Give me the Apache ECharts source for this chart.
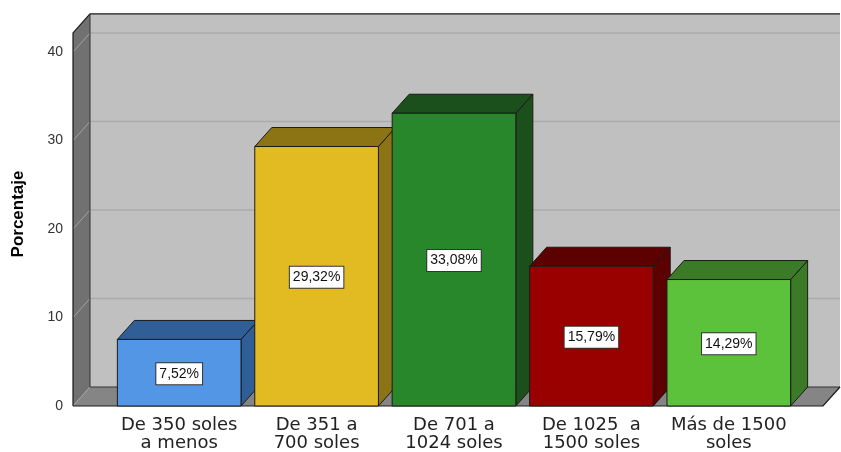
<!DOCTYPE html>
<html>
<head>
<meta charset="utf-8">
<script src="https://cdn.jsdelivr.net/npm/echarts@6/dist/echarts.min.js"></script>
<style>html,body{margin:0;padding:0;background:#fff}#c{width:841px;height:452px}</style>
</head>
<body>
<div id="c"></div>
<script>
const categories = ['De 350 soles\na menos', 'De 351 a\n700 soles', 'De 701 a\n1024 soles', 'De 1025  a\n1500 soles', 'Más de 1500\nsoles'];
const values = [7.52, 29.32, 33.08, 15.79, 14.29];
const yTicks = [0, 10, 20, 30, 40];
const frontColors = ['#5496e6', '#e2bb22', '#28872b', '#990000', '#5dc23b'];
const darkColors = ['#305e97', '#8c7414', '#1b4f1b', '#5c0000', '#3b7a27'];

const DX = 17, DY = -19;       // 3D depth offset (layout)
const WALL_MAX = 42.15;        // top of the wall, in axis units (layout)
const STROKE = '#1a1a1a';

const chart = echarts.init(document.getElementById('c'), null, {renderer: 'canvas'});

function wallsRender(params, api) {
  const cs = params.coordSys;
  const xL = cs.x, xR = cs.x + cs.width;
  const y0 = api.coord([0, 0])[1];
  const yT = api.coord([0, WALL_MAX])[1];
  const ch = [];
  ch.push({type: 'polygon', shape: {points: [[xL + DX, yT + DY], [xR + DX, yT + DY], [xR + DX, y0 + DY], [xL + DX, y0 + DY]]},
    style: {fill: '#c0c0c0', stroke: null}});
  ch.push({type: 'polygon', shape: {points: [[xL, yT], [xL + DX, yT + DY], [xL + DX, y0 + DY], [xL, y0]]},
    style: {fill: '#717171', stroke: null}});
  ch.push({type: 'polygon', shape: {points: [[xL, y0], [xR, y0], [xR + DX, y0 + DY], [xL + DX, y0 + DY]]},
    style: {fill: '#858585', stroke: null}});
  yTicks.forEach(function (v) {
    const y = api.coord([0, v])[1];
    if (v > 0) {
      ch.push({type: 'line', shape: {x1: xL + DX, y1: y + DY, x2: xR + DX, y2: y + DY},
        style: {stroke: '#ababab', lineWidth: 1.5}});
    }
    ch.push({type: 'line', shape: {x1: xL, y1: y, x2: xL + DX, y2: y + DY},
      style: {stroke: '#a3a3a3', lineWidth: 1}});
  });
  ch.push({type: 'polyline', shape: {points: [[xL, y0], [xL, yT], [xL + DX, yT + DY], [xR + DX, yT + DY]]},
    style: {stroke: STROKE, lineWidth: 1.2, fill: null}});
  ch.push({type: 'polyline', shape: {points: [[xL + DX, yT + DY], [xL + DX, y0 + DY], [xR + DX, y0 + DY]]},
    style: {stroke: '#333', lineWidth: 1, fill: null}});
  ch.push({type: 'polyline', shape: {points: [[xL, y0], [xR, y0], [xR + DX, y0 + DY]]},
    style: {stroke: STROKE, lineWidth: 1.2, fill: null}});
  return {type: 'group', children: ch};
}

function barRender(params, api) {
  const idx = api.value(0);
  const val = api.value(1);
  const top = api.coord([idx, val]);
  const base = api.coord([idx, 0]);
  const w = api.size([1, 0])[0] * 0.9;
  const x0 = top[0] - w / 2, x1 = top[0] + w / 2;
  const yv = top[1], y0 = base[1];
  const fc = frontColors[idx], dc = darkColors[idx];
  const label = val.toFixed(2).replace('.', ',') + '%';
  return {
    type: 'group',
    children: [
      {type: 'polygon', shape: {points: [[x1, yv], [x1 + DX, yv + DY], [x1 + DX, y0 + DY], [x1, y0]]},
        style: {fill: dc, stroke: STROKE, lineWidth: 1}},
      {type: 'polygon', shape: {points: [[x0, yv], [x0 + DX, yv + DY], [x1 + DX, yv + DY], [x1, yv]]},
        style: {fill: dc, stroke: STROKE, lineWidth: 1}},
      {type: 'rect', shape: {x: x0, y: yv, width: w, height: y0 - yv},
        style: {fill: fc, stroke: STROKE, lineWidth: 1}},
      {type: 'text', x: top[0], y: (yv + y0) / 2 + 1,
        style: {text: label, align: 'center', verticalAlign: 'middle', fill: '#111',
          font: '14px "Liberation Sans", Arial, sans-serif',
          backgroundColor: '#ffffff', borderColor: '#333', borderWidth: 1, padding: [4, 3, 3, 3]}}
    ]
  };
}

const option = {
  animation: false,
  backgroundColor: '#ffffff',
  grid: [
    {left: 73, right: 18, top: 52, bottom: 46, outerBoundsMode: 'none', containLabel: false},
    {left: 110.5, right: 43.5, top: 52, bottom: 46, outerBoundsMode: 'none', containLabel: false}
  ],
  xAxis: [
    {gridIndex: 0, type: 'value', min: 0, max: 1, show: false},
    {gridIndex: 1, type: 'category', data: categories,
      axisLine: {show: false}, axisTick: {show: false},
      axisLabel: {interval: 0, margin: 10, fontSize: 18, lineHeight: 18, color: '#222',
        fontFamily: 'DejaVu Sans'}}
  ],
  yAxis: [
    {gridIndex: 0, type: 'value', min: 0, max: 40, interval: 10,
      axisLine: {show: false}, axisTick: {show: false}, splitLine: {show: false},
      axisLabel: {margin: 10, fontSize: 14, color: '#333', fontFamily: 'Liberation Sans'},
      name: 'Porcentaje', nameLocation: 'middle', nameGap: 46,
      nameTextStyle: {fontSize: 17, fontWeight: 'bold', color: '#000', fontFamily: 'Liberation Sans',
        padding: [0, 0, 0, 30]}},
    {gridIndex: 1, type: 'value', min: 0, max: 40, interval: 10, show: false}
  ],
  series: [
    {type: 'custom', xAxisIndex: 0, yAxisIndex: 0, z: 1, silent: true,
      data: [[0, 0]], renderItem: wallsRender},
    {type: 'custom', xAxisIndex: 1, yAxisIndex: 1, z: 2,
      data: values.map(function (v, i) { return [i, v]; }),
      encode: {x: 0, y: 1}, renderItem: barRender}
  ]
};
chart.setOption(option);
</script>
</body>
</html>
